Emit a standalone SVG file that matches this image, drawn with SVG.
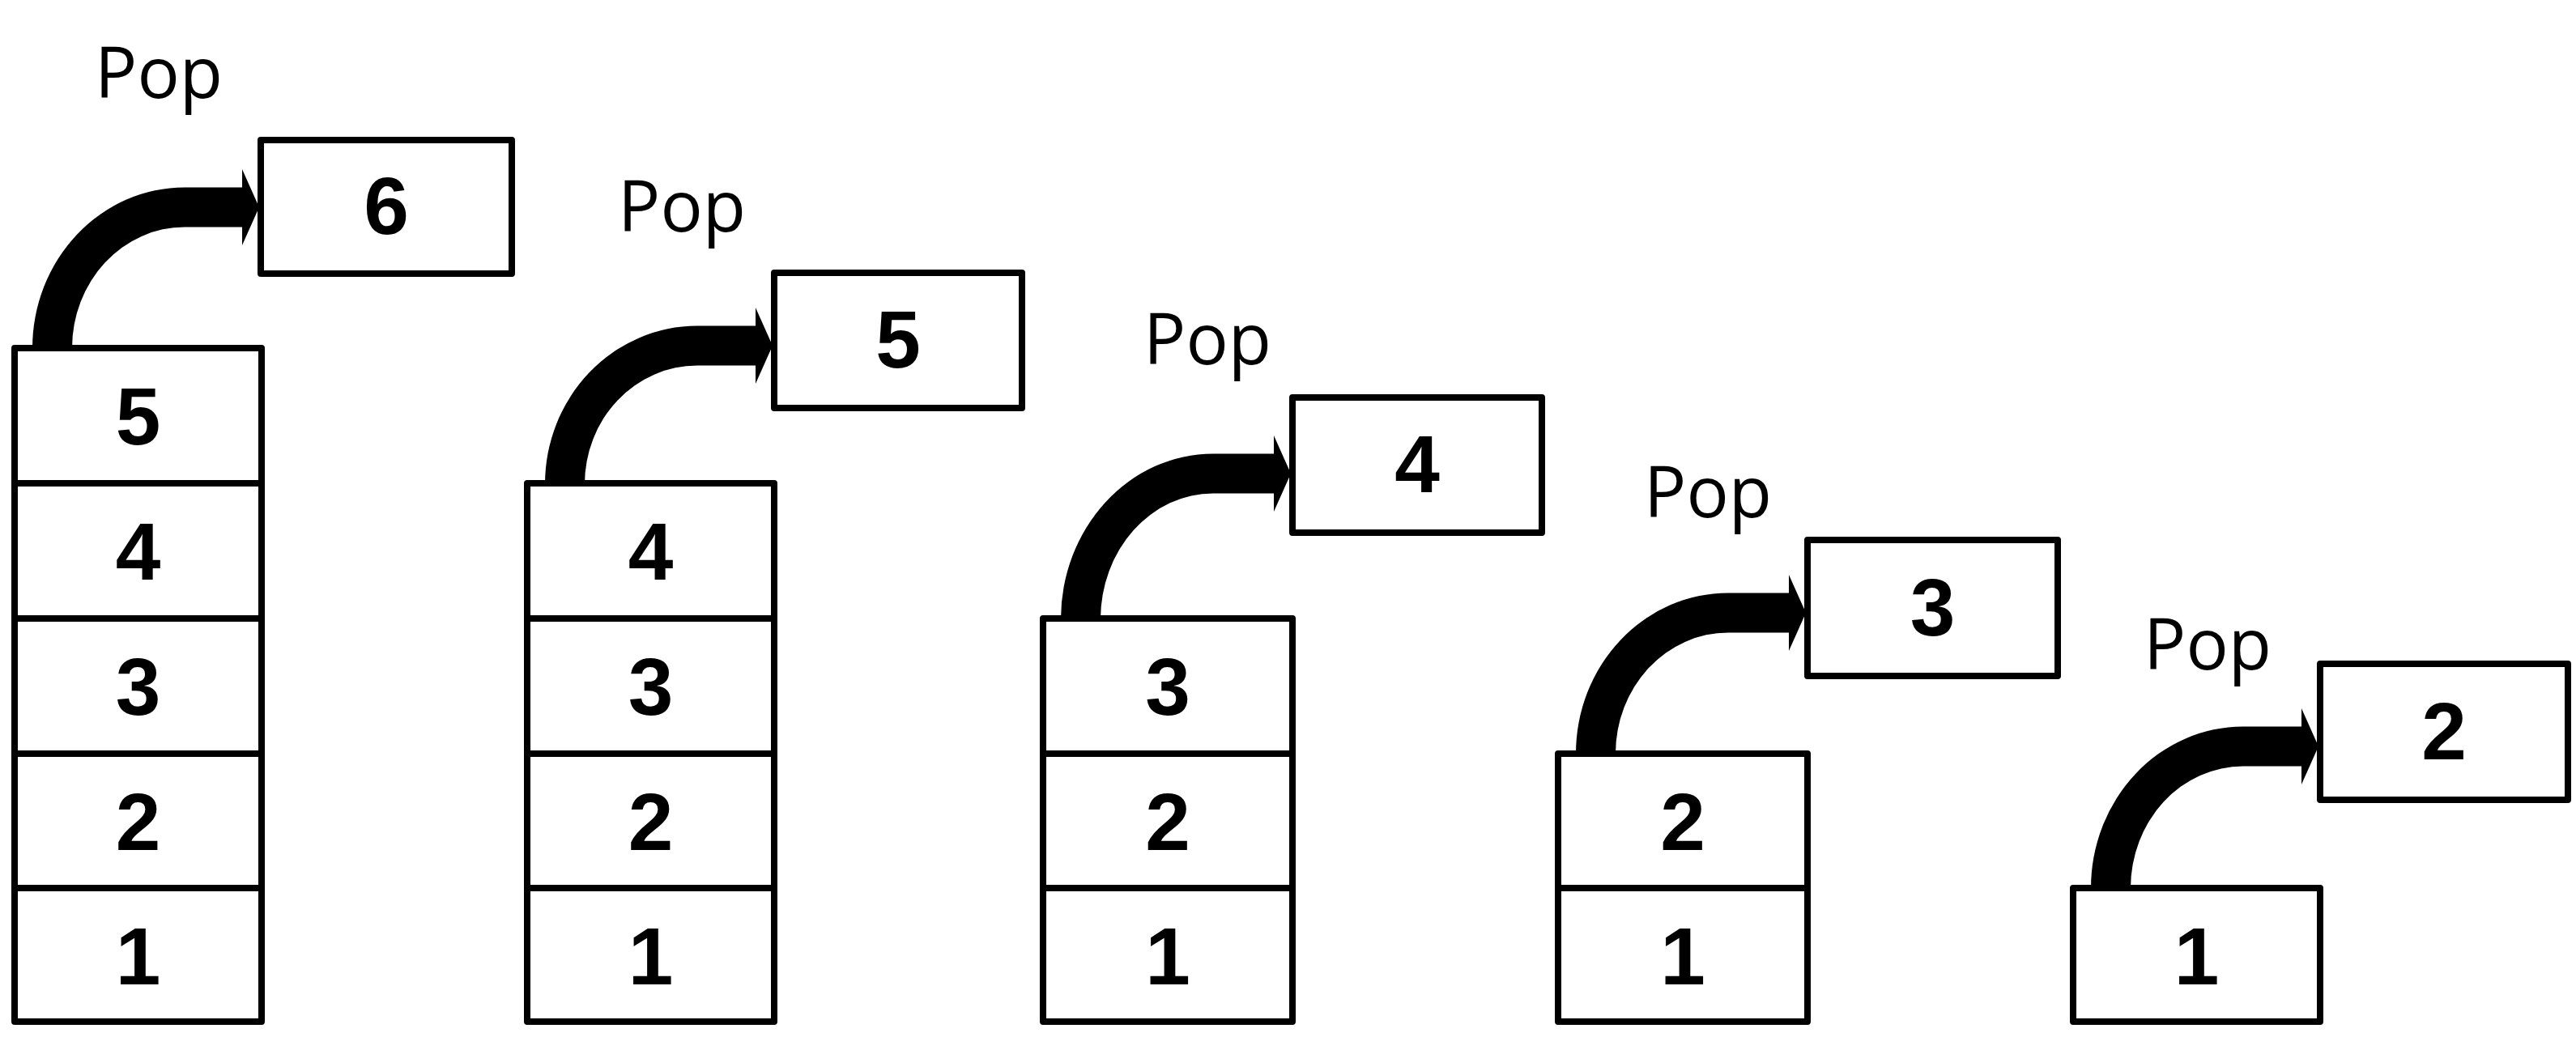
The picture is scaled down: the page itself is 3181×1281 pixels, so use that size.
<svg xmlns="http://www.w3.org/2000/svg" width="3181" height="1281" viewBox="0 0 3181 1281">
<style>
.cell{fill:#fff;stroke:#000;stroke-width:8;stroke-linejoin:round}
.num{font-family:"Liberation Sans",Arial,sans-serif;font-weight:bold;font-size:100px;text-anchor:middle;fill:#000}
.pop{font-family:"Open Sans","Noto Sans",sans-serif;font-size:87px;text-anchor:middle;fill:#000}
.arr{fill:#000;stroke:none}
</style>
<rect width="3181" height="1281" fill="#fff"/>
<g id="connectors">
<path class="arr" d="M40,430 A188 198.5 0 0 1 228,231.5 H299 V209 L320,256 L299,303 V280.5 H228 A139 149.5 0 0 0 89,430 Z"/>
<path class="arr" d="M673,598 A188 195.5 0 0 1 861,402.5 H933 V380 L954,427 L933,474 V451.5 H861 A139 146.5 0 0 0 722,598 Z"/>
<path class="arr" d="M1310,765 A188 204.5 0 0 1 1498,560.5 H1573 V538 L1594,585 L1573,632 V609.5 H1498 A139 155.5 0 0 0 1359,765 Z"/>
<path class="arr" d="M1946,931 A188 198.5 0 0 1 2134,732.5 H2209 V710 L2230,757 L2209,804 V781.5 H2134 A139 149.5 0 0 0 1995,931 Z"/>
<path class="arr" d="M2582,1097 A188 199.5 0 0 1 2770,897.5 H2842 V875 L2863,922 L2842,969 V946.5 H2770 A139 150.5 0 0 0 2631,1097 Z"/>
</g>
<g id="stack1">
<rect class="cell" x="18" y="430" width="305" height="167"/><text class="num" x="170.5" y="549">5</text>
<rect class="cell" x="18" y="597" width="305" height="167"/><text class="num" x="170.5" y="716">4</text>
<rect class="cell" x="18" y="764" width="305" height="167"/><text class="num" x="170.5" y="883">3</text>
<rect class="cell" x="18" y="931" width="305" height="166"/><text class="num" x="170.5" y="1050">2</text>
<rect class="cell" x="18" y="1097" width="305" height="165"/><text class="num" x="170.5" y="1216">1</text>
</g>
<g id="popped6">
<text class="pop" x="196" y="121">Pop</text>
<rect class="cell" x="322" y="173" width="310" height="165"/><text class="num" x="477" y="289">6</text>
</g>
<g id="stack2">
<rect class="cell" x="651" y="597" width="305" height="167"/><text class="num" x="803.5" y="716">4</text>
<rect class="cell" x="651" y="764" width="305" height="167"/><text class="num" x="803.5" y="883">3</text>
<rect class="cell" x="651" y="931" width="305" height="166"/><text class="num" x="803.5" y="1050">2</text>
<rect class="cell" x="651" y="1097" width="305" height="165"/><text class="num" x="803.5" y="1216">1</text>
</g>
<g id="popped5">
<text class="pop" x="842" y="286">Pop</text>
<rect class="cell" x="956" y="337" width="306" height="167"/><text class="num" x="1109" y="454">5</text>
</g>
<g id="stack3">
<rect class="cell" x="1288" y="764" width="308" height="167"/><text class="num" x="1442" y="883">3</text>
<rect class="cell" x="1288" y="931" width="308" height="166"/><text class="num" x="1442" y="1050">2</text>
<rect class="cell" x="1288" y="1097" width="308" height="165"/><text class="num" x="1442" y="1216">1</text>
</g>
<g id="popped4">
<text class="pop" x="1491" y="450">Pop</text>
<rect class="cell" x="1596" y="491" width="308" height="167"/><text class="num" x="1750" y="608">4</text>
</g>
<g id="stack4">
<rect class="cell" x="1924" y="931" width="308" height="166"/><text class="num" x="2078" y="1050">2</text>
<rect class="cell" x="1924" y="1097" width="308" height="165"/><text class="num" x="2078" y="1216">1</text>
</g>
<g id="popped3">
<text class="pop" x="2109" y="639">Pop</text>
<rect class="cell" x="2232" y="667" width="309" height="168"/><text class="num" x="2386.5" y="785">3</text>
</g>
<g id="stack5">
<rect class="cell" x="2560" y="1097" width="305" height="165"/><text class="num" x="2712.5" y="1216">1</text>
</g>
<g id="popped2">
<text class="pop" x="2726" y="827">Pop</text>
<rect class="cell" x="2865" y="820" width="306" height="168"/><text class="num" x="3018" y="938">2</text>
</g>
</svg>
